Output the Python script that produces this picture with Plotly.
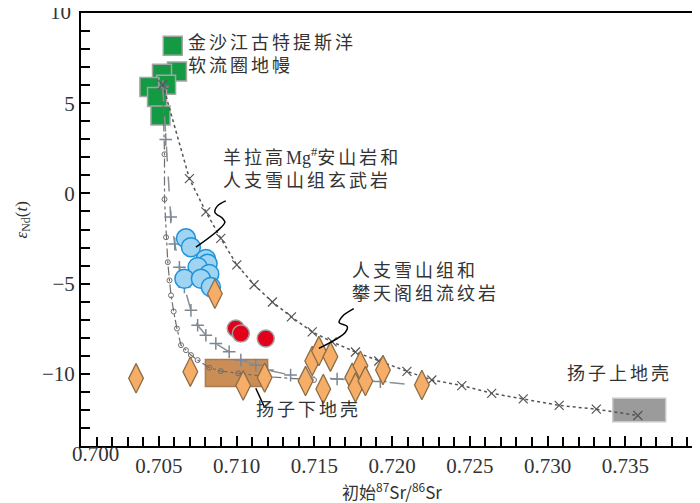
import plotly.graph_objects as go

# sample groups: initial 87Sr/86Sr and eNd(t)
mantle_sr = [0.7059, 0.70617, 0.70521, 0.70547, 0.70440, 0.70489, 0.70511]
mantle_nd = [8.18, 6.76, 6.63, 6.03, 5.90, 5.35, 4.32]

andesite_sr = [0.70675, 0.70707, 0.70803, 0.70814, 0.70750, 0.70825, 0.70665, 0.70771, 0.70835]
andesite_nd = [-2.49, -2.98, -3.63, -3.90, -4.08, -4.46, -4.73, -4.73, -5.19]

red_sr = [0.70995, 0.71028, 0.71188]
red_nd = [-7.49, -7.77, -8.04]

rhyolite_sr = [0.70861, 0.70354, 0.70703, 0.71043, 0.71181, 0.71444, 0.71487, 0.71530, 0.71604,
               0.71558, 0.71744, 0.71765, 0.71797, 0.71829, 0.71942, 0.72192]
rhyolite_nd = [-5.56, -10.25, -9.88, -10.65, -10.21, -10.40, -9.29, -8.74, -9.05,
               -10.84, -10.21, -10.76, -9.55, -10.40, -9.79, -10.62]

# mixing curves
mix1_sr = [0.70526, 0.70697, 0.70803, 0.70899, 0.71002, 0.71113, 0.71231, 0.71353, 0.71487, 0.71615,
           0.71765, 0.71915, 0.72096, 0.72256, 0.72449, 0.72641, 0.72844, 0.73075, 0.73314, 0.73581]
mix1_nd = [6.03, 0.82, -1.02, -2.49, -3.96, -5.06, -6.02, -6.84, -7.67, -8.23,
           -8.79, -9.29, -9.86, -10.34, -10.65, -11.08, -11.39, -11.75, -11.96, -12.31]

mix2_sr = [0.70526, 0.70537, 0.70537, 0.70547, 0.70558, 0.70569, 0.70579, 0.70596, 0.70617,
           0.70643, 0.70675, 0.70707, 0.70750, 0.70825, 0.70899, 0.71011, 0.71188, 0.71498]
mix2_nd = [5.92, 2.17, -0.32, -2.43, -3.81, -4.82, -5.65, -6.54, -7.49,
           -8.41, -8.69, -8.96, -9.24, -9.66, -9.85, -9.97, -10.15, -10.34]

mix3_sr = [0.70526, 0.70545, 0.70577, 0.70603, 0.70633, 0.70665, 0.70707, 0.70750, 0.70803,
           0.70867, 0.70953, 0.71028, 0.71124, 0.71199, 0.71348, 0.71647, 0.71925, 0.72192]
mix3_nd = [5.92, 2.99, -1.31, -2.80, -4.09, -5.19, -6.48, -7.31, -7.86,
           -8.32, -8.78, -9.24, -9.51, -9.79, -10.07, -10.29, -10.43, -10.65]

# crustal end-member fields [sr0, sr1, nd0, nd1]
lower_crust = [0.7080, 0.7120, -9.2, -10.7]
upper_crust = [0.7342, 0.7376, -11.35, -12.65]

x_ticks = [0.700, 0.705, 0.710, 0.715, 0.720, 0.725, 0.730, 0.735]
x_ticklabels = ["", "0.705", "0.710", "0.715", "0.720", "0.725", "0.730", "0.735"]
y_ticks = [-10, -5, 0, 5, 10]
y_ticklabels = ["\u221210", "\u22125", "0", "5", ""]

CJK = "Noto Sans CJK SC"
SERIF = "Liberation Serif"
TXT = "#333333"

fig = go.Figure()

for box, fill, edge in [(lower_crust, "#c98d55", "#a87b50"), (upper_crust, "#9b9b9b", "#c8c8c8")]:
    fig.add_shape(type="rect", x0=box[0], x1=box[1], y0=box[2], y1=box[3],
                  fillcolor=fill, line=dict(color=edge, width=1.5), layer="below")

fig.add_trace(go.Scatter(x=mantle_sr, y=mantle_nd, mode="markers",
                         marker=dict(symbol="square", size=19, color="#139a43",
                                     line=dict(color="#a5a5a5", width=1.5))))

fig.add_trace(go.Scatter(x=mix2_sr, y=mix2_nd, mode="lines+markers",
                         line=dict(color="#6e6e6e", width=1.2, dash="dashdot"),
                         marker=dict(symbol="circle-open", size=5, color="#6e6e6e",
                                     line=dict(width=1))))
fig.add_trace(go.Scatter(x=mix3_sr, y=mix3_nd, mode="lines+markers",
                         line=dict(color="#8a8f96", width=1.5, dash="longdash"),
                         marker=dict(symbol="cross-thin", size=9,
                                     line=dict(color="#7b8794", width=1.5))))
fig.add_trace(go.Scatter(x=mix1_sr, y=mix1_nd, mode="lines+markers",
                         line=dict(color="#555555", width=1.5, dash="dot"),
                         marker=dict(symbol="x-thin", size=9,
                                     line=dict(color="#555555", width=1.2))))

fig.add_trace(go.Scatter(x=andesite_sr, y=andesite_nd, mode="markers",
                         marker=dict(symbol="circle", size=19, color="#9fd4f3",
                                     line=dict(color="#1f93d8", width=1.5))))
fig.add_trace(go.Scatter(x=red_sr, y=red_nd, mode="markers",
                         marker=dict(symbol="circle", size=17, color="#e3001b",
                                     line=dict(color="#a0a0a0", width=1.5))))
fig.add_trace(go.Scatter(x=rhyolite_sr, y=rhyolite_nd, mode="markers",
                         marker=dict(symbol="diamond-tall", size=21, color="#f6ad67",
                                     line=dict(color="#8c6d45", width=1.3))))

# leader lines
leaders = [
    ([0.70931, 0.70878, 0.70861, 0.70910, 0.70925, 0.70878, 0.70739],
     [-0.41, -0.69, -1.05, -1.38, -1.60, -2.07, -2.98]),
    ([0.71754, 0.71679, 0.71660, 0.71712, 0.71699, 0.71530],
     [-6.39, -6.83, -7.16, -7.38, -7.71, -8.59]),
    ([0.71124, 0.71178], [-10.80, -11.81]),
]
for lx, ly in leaders:
    fig.add_trace(go.Scatter(x=lx, y=ly, mode="lines", line=dict(color="black", width=1.5, shape="spline"),
                             hoverinfo="skip"))

SP = "<span style=\"letter-spacing:3px\">"
labels = [
    (0.70739, 7.27, SP + "金沙江古特提斯洋<br>软流圈地幔</span>"),
    (0.70962, 0.90, SP + "羊拉高</span><span style=\"font-family:Liberation Serif\">Mg<sup>#</sup></span>"
                    + SP + "安山岩和<br>人支雪山组玄武岩</span>"),
    (0.71795, -5.38, SP + "人支雪山组和<br>攀天阁组流纹岩</span>"),
    (0.71178, -12.46, SP + "扬子下地壳</span>"),
    (0.73175, -10.43, SP + "扬子上地壳</span>"),
]
for lx, ly, txt in labels:
    fig.add_annotation(x=lx, y=ly, text=txt, showarrow=False, xanchor="left", yanchor="middle",
                       xshift=-10, yshift=10,
                       align="left", font=dict(family=CJK, size=18, color=TXT))

# end tick labels nudged off the corner, as in the original
fig.add_annotation(x=0.70096, y=0, xref="x", yref="paper", yshift=-22, xanchor="center", text="0.700",
                   showarrow=False, font=dict(family=SERIF, size=21, color=TXT))
fig.add_annotation(x=0, y=10, xref="paper", yref="y", xshift=-8, yshift=1, xanchor="right",
                   yanchor="middle", text="10", showarrow=False, font=dict(family=SERIF, size=21, color=TXT))

# y axis title
fig.add_annotation(x=0, y=-1.5, xref="paper", yref="y", xshift=-58, textangle=-90,
                   xanchor="center", yanchor="middle", showarrow=False,
                   text="<i>ε</i><sub>Nd</sub>(<i>t</i>)", font=dict(family=SERIF, size=17, color=TXT))

fig.update_layout(
    width=700, height=503,
    margin=dict(l=73, r=3, t=3, b=65),
    paper_bgcolor="white", plot_bgcolor="white",
    showlegend=False,
    font=dict(family=SERIF, size=21, color=TXT),
)
fig.update_xaxes(
    range=[0.700, 0.740], tickvals=x_ticks, ticktext=x_ticklabels,
    ticks="inside", ticklen=10, tickwidth=1.5, tickcolor="black",
    minor=dict(dtick=0.001, ticks="inside", ticklen=9, tickwidth=1.5, tickcolor="black"),
    showline=True, linecolor="black", linewidth=2, mirror=True, showgrid=False, zeroline=False,
    title=dict(text="初始<sup>87</sup>Sr/<sup>86</sup>Sr", font=dict(family=CJK, size=17), standoff=2),
)
fig.update_yaxes(
    range=[-14, 10], tickvals=y_ticks, ticktext=y_ticklabels,
    ticks="inside", ticklen=9, tickwidth=1.5, tickcolor="black",
    minor=dict(dtick=1, ticks="inside", ticklen=9, tickwidth=1.5, tickcolor="black"),
    showline=True, linecolor="black", linewidth=2, mirror=True, showgrid=False, zeroline=False,
)

fig.write_html("out.html")
